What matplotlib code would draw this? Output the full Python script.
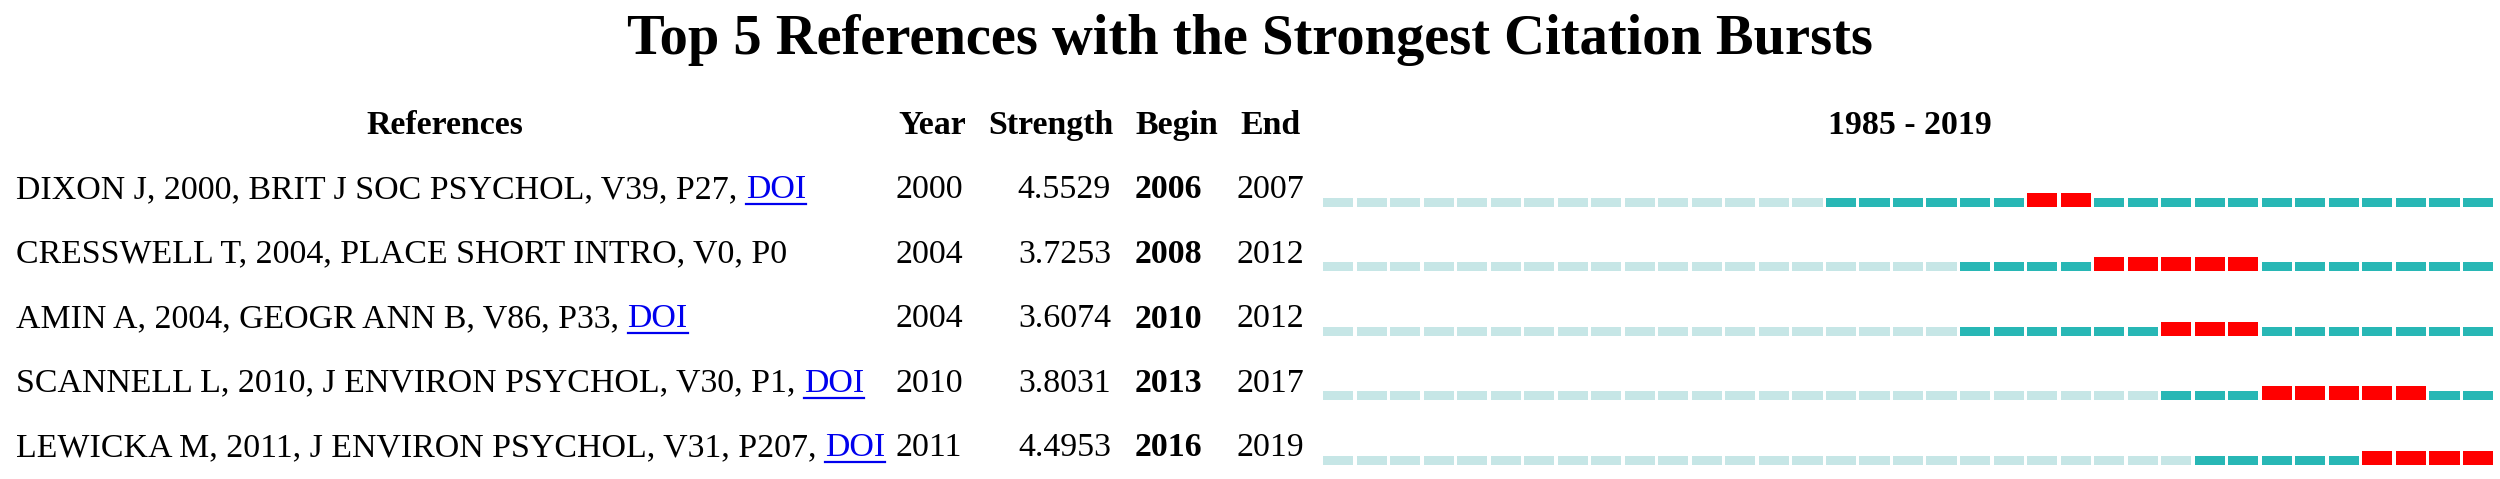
import matplotlib
matplotlib.use("Agg")
import matplotlib.pyplot as plt

# ---- data ----
refs = [
    "DIXON J, 2000, BRIT J SOC PSYCHOL, V39, P27, ",
    "CRESSWELL T, 2004, PLACE SHORT INTRO, V0, P0",
    "AMIN A, 2004, GEOGR ANN B, V86, P33, ",
    "SCANNELL L, 2010, J ENVIRON PSYCHOL, V30, P1, ",
    "LEWICKA M, 2011, J ENVIRON PSYCHOL, V31, P207, ",
]
has_doi = [True, False, True, True, True]
pub_year = [2000, 2004, 2004, 2010, 2011]
strength = [4.5529, 3.7253, 3.6074, 3.8031, 4.4953]
begin = [2006, 2008, 2010, 2013, 2016]
end = [2007, 2012, 2012, 2017, 2019]
span_start, span_end = 1985, 2019
title = "Top 5 References with the Strongest Citation Bursts"

# ---- style ----
FONT = "Liberation Serif"
C_LIGHT = "#c6e6e6"
C_TEAL = "#28b7b5"
C_RED = "#ff0000"
C_LINK = "#0000ee"

W, H = 2500, 479
fig = plt.figure(figsize=(W / 100, H / 100), dpi=100)
ax0 = fig.add_axes([0, 0, 1, 1])
ax0.set_xlim(0, W)
ax0.set_ylim(H, 0)
ax0.axis("off")

fs = 24.4
row_y0, row_dy = 190, 64.5
head_y = 125

ax0.text(W / 2, 40, title, ha="center", va="center", fontsize=40.7,
         fontweight="bold", family=FONT)

hk = dict(va="center", fontsize=fs, fontweight="bold", family=FONT)
ax0.text(445, head_y, "References", ha="center", **hk)
ax0.text(932, head_y, "Year", ha="center", **hk)
ax0.text(1113, head_y, "Strength", ha="right", **hk)
ax0.text(1177, head_y, "Begin", ha="center", **hk)
ax0.text(1301, head_y, "End", ha="right", **hk)
ax0.text(1910, head_y, f"{span_start} - {span_end}", ha="center", **hk)

fig.canvas.draw()
renderer = fig.canvas.get_renderer()
inv = ax0.transData.inverted()

for i, r in enumerate(refs):
    y = row_y0 + i * row_dy
    t = ax0.text(16, y, r, ha="left", va="center", fontsize=fs, family=FONT)
    if has_doi[i]:
        bb = t.get_window_extent(renderer)
        x_end = inv.transform((bb.x1, bb.y0))[0]
        d = ax0.text(x_end, y, "DOI", ha="left", va="center", fontsize=fs,
                     family=FONT, color=C_LINK)
        db = d.get_window_extent(renderer)
        (x0, yb), (x1, _) = inv.transform([(db.x0, db.y0), (db.x1, db.y1)])
        ax0.plot([x0, x1], [yb - 1, yb - 1], color=C_LINK, lw=1.6)
    ax0.text(929, y, str(pub_year[i]), ha="center", va="center", fontsize=fs, family=FONT)
    ax0.text(1111, y, f"{strength[i]:.4f}", ha="right", va="center", fontsize=fs, family=FONT)
    ax0.text(1168, y, str(begin[i]), ha="center", va="center", fontsize=fs,
             fontweight="bold", family=FONT)
    ax0.text(1270, y, str(end[i]), ha="center", va="center", fontsize=fs, family=FONT)

# ---- timeline ----
left_px, right_px = 1323, 2496.4
top_px = 150
bar_base_px0 = 207
ax = fig.add_axes([left_px / W, 0, (right_px - left_px) / W, 1 - top_px / H])
ax.set_xlim(span_start, span_end + 1)
ax.set_ylim((H - bar_base_px0) / row_dy, (top_px - bar_base_px0) / row_dy)
ax.axis("off")

h_norm = 9 / row_dy
h_burst = 14 / row_dy
years = list(range(span_start, span_end + 1))
for i in range(len(refs)):
    xs, hs, cs = [], [], []
    for yr in years:
        if begin[i] <= yr <= end[i]:
            c, h = C_RED, h_burst
        elif yr >= pub_year[i]:
            c, h = C_TEAL, h_norm
        else:
            c, h = C_LIGHT, h_norm
        xs.append(yr); hs.append(-h); cs.append(c)
    ax.bar(xs, hs, bottom=i, width=0.9, align="edge", color=cs, linewidth=0)

fig.savefig("out.png", dpi=100, facecolor="white")
